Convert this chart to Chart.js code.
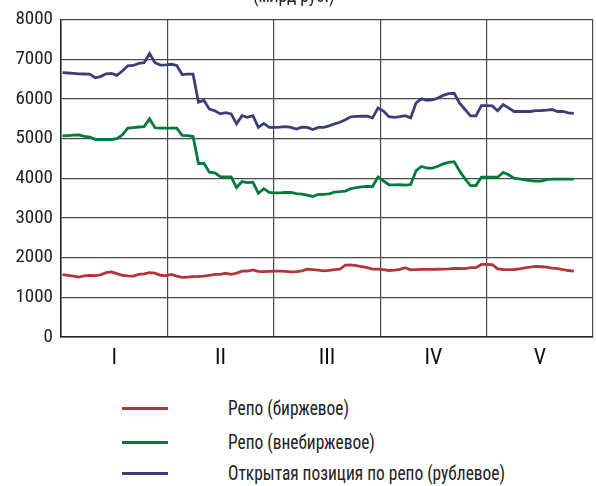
<!DOCTYPE html>
<html lang="ru">
<head>
<meta charset="UTF-8">
<title>Репо</title>
<style>
    body { margin: 0; padding: 0; background: #fff; font-family: "Roboto Condensed", Roboto, sans-serif; font-stretch: condensed; color: #222; }
    .wrap { position: relative; width: 596px; height: 486px; overflow: hidden; }
    #chart { position: absolute; left: 0; top: 0; }
    .title { position: absolute; left: 253px; top: -15px; font-size: 20px; line-height: 20px; white-space: nowrap; transform: scaleX(0.87); transform-origin: left top; }
    .legend { position: absolute; left: 0; top: 0; }
    .legend-item { position: absolute; left: 122px; height: 24px; width: 420px; }
    .legend-item span.line { position: absolute; left: 0; top: 11px; width: 46px; height: 3px; }
    .legend-item span.txt { position: absolute; left: 106px; top: 0; font-size: 20px; line-height: 24px; white-space: nowrap; transform: scaleX(0.87); transform-origin: left top; }
</style>
</head>
<body>
<div class="wrap">
    <canvas id="chart" width="596" height="380"></canvas>
    <div class="title">(млрд руб.)</div>
    <div class="legend" id="legend"></div>
</div>
<script src="https://cdn.jsdelivr.net/npm/chart.js"></script>
<script>
// months (axis labels)
const months = ['I', 'II', 'III', 'IV', 'V'];
const yTicks = [0, 1000, 2000, 3000, 4000, 5000, 6000, 7000, 8000];

// daily values
const repoExchange = [
    1570, 1555, 1535, 1510, 1540, 1550, 1545, 1565, 1620, 1640,
    1595, 1555, 1540, 1535, 1575, 1590, 1620, 1610, 1555, 1545,
    1575, 1535, 1500, 1510, 1520, 1525, 1535, 1555, 1575, 1578,
    1605, 1580, 1610, 1660, 1662, 1692, 1653, 1645, 1655, 1661,
    1661, 1655, 1640, 1645, 1665, 1710, 1697, 1682, 1665, 1678,
    1698, 1712, 1810, 1815, 1795, 1770, 1745, 1712, 1712, 1695,
    1675, 1685, 1705, 1745, 1690, 1695, 1703, 1703, 1703, 1706,
    1710, 1715, 1725, 1725, 1722, 1746, 1746, 1828, 1828, 1820,
    1715, 1700, 1697, 1700, 1715, 1740, 1760, 1778, 1770, 1758,
    1735, 1723, 1700, 1675, 1661
];
const repoOtc = [
    5065, 5075, 5085, 5090, 5055, 5035, 4980, 4975, 4975, 4975,
    4995, 5090, 5260, 5275, 5290, 5300, 5495, 5270, 5260, 5260,
    5260, 5260, 5080, 5070, 5050, 4370, 4370, 4150, 4135, 4040,
    4035, 4035, 3765, 3915, 3890, 3900, 3620, 3735, 3640, 3630,
    3630, 3645, 3640, 3610, 3600, 3575, 3540, 3590, 3595, 3605,
    3650, 3660, 3675, 3735, 3760, 3780, 3795, 3790, 4030, 3930,
    3835, 3830, 3835, 3825, 3840, 4190, 4295, 4255, 4255, 4300,
    4360, 4400, 4415, 4180, 3985, 3815, 3815, 4025, 4025, 4025,
    4025, 4145, 4085, 4000, 3985, 3955, 3940, 3925, 3925, 3965,
    3975, 3975, 3975, 3975, 3975
];
const openPosition = [
    6660, 6650, 6640, 6630, 6625, 6620, 6530, 6560, 6630, 6640,
    6590, 6700, 6830, 6840, 6890, 6910, 7140, 6910, 6850, 6855,
    6870, 6840, 6610, 6620, 6620, 5915, 5960, 5740, 5700, 5620,
    5650, 5620, 5370, 5575, 5535, 5575, 5280, 5380, 5280, 5280,
    5285, 5300, 5280, 5240, 5285, 5280, 5225, 5280, 5280, 5320,
    5370, 5410, 5475, 5545, 5555, 5560, 5560, 5520, 5770, 5690,
    5550, 5530, 5550, 5575, 5520, 5900, 6000, 5960, 5970, 6020,
    6085, 6130, 6140, 5890, 5730, 5570, 5570, 5830, 5830, 5820,
    5700, 5855, 5770, 5680, 5685, 5680, 5680, 5700, 5705, 5715,
    5730, 5680, 5680, 5645, 5635
];

const seriesNames = ['Репо (биржевое)', 'Репо (внебиржевое)', 'Открытая позиция по репо (рублевое)'];
const seriesColors = ['#b2343d', '#007a3d', '#3e3d78'];

const FONT = '"Roboto Condensed", Roboto, sans-serif';
const GRID = '#4a4a4a';

const toPoints = arr => arr.map((v, i) => ({ x: i, y: v }));

const datasets = [repoExchange, repoOtc, openPosition].map((arr, k) => ({
    label: seriesNames[k],
    data: toPoints(arr),
    borderColor: seriesColors[k],
    borderWidth: 2.8,
    pointRadius: 0,
    tension: 0,
    fill: false,
    xAxisID: 'x',
    yAxisID: 'y'
}));

function drawChart() {
    new Chart(document.getElementById('chart'), {
        type: 'line',
        data: { datasets: datasets },
        options: {
            responsive: false,
            animation: false,
            layout: { padding: { top: 19, right: 3, left: 0, bottom: 0 } },
            plugins: { legend: { display: false }, tooltip: { enabled: false } },
            scales: {
                x: {
                    type: 'linear',
                    display: false,
                    min: -0.276,
                    max: 97.52
                },
                months: {
                    type: 'category',
                    labels: months,
                    position: 'bottom',
                    offset: true,
                    grid: { offset: true, color: GRID, lineWidth: 1.2, drawTicks: false },
                    border: { color: '#222', width: 1.5 },
                    ticks: { color: '#111', font: { family: FONT, size: 22 }, padding: 8, maxRotation: 0 },
                    afterFit: s => { s.height = 43; }
                },
                y: {
                    min: 0,
                    max: 8000,
                    afterBuildTicks: s => { s.ticks = yTicks.map(v => ({ value: v })); },
                    grid: { color: GRID, lineWidth: 1.2, drawTicks: false },
                    border: { color: '#222', width: 1.5 },
                    ticks: { color: '#222', font: { family: FONT, size: 19 }, padding: 8, callback: v => String(v) },
                    afterFit: s => { s.width = 61; }
                }
            }
        }
    });
}

// wait for the condensed face so the canvas text uses it
document.fonts.load('19px "Roboto Condensed"').then(drawChart, drawChart);

// legend below the chart
const legendTops = [396, 430, 461];
const legendEl = document.getElementById('legend');
seriesNames.forEach((name, k) => {
    const item = document.createElement('div');
    item.className = 'legend-item';
    item.style.top = legendTops[k] + 'px';
    item.innerHTML = `<span class="line" style="background:${seriesColors[k]}"></span><span class="txt">${name}</span>`;
    legendEl.appendChild(item);
});
</script>
</body>
</html>
